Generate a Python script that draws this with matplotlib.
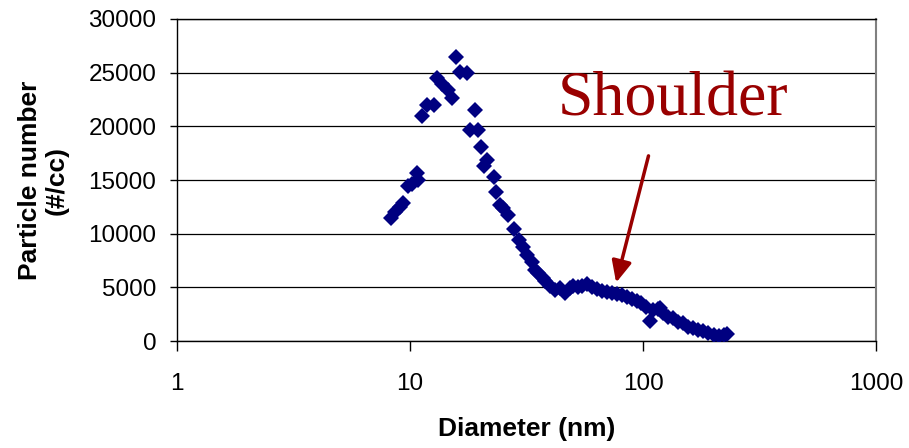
import matplotlib
matplotlib.use("Agg")
import matplotlib.pyplot as plt
from matplotlib.ticker import FixedLocator, FixedFormatter, NullLocator

# Data
diameter_nm = [8.25, 8.6, 9.0, 9.35, 9.8, 10.15, 10.7, 10.85, 11.2, 11.8, 12.6, 13.0,
               13.7, 14.6, 15.1, 15.7, 16.4, 17.5, 18.1, 19.0, 19.6, 20.2, 20.8, 21.3,
               22.8, 23.4, 24.3, 25.1, 26.4, 27.9, 29.2, 30.6, 31.7, 33.3, 34.4, 35.5,
               37.0, 38.1, 39.9, 41.9, 44.0, 46.2, 48.5, 50.1, 52.7, 54.4, 57.2, 60.1,
               63.2, 66.3, 69.7, 73.2, 77.0, 80.8, 84.9, 89.2, 93.7, 98.4, 103.4, 107.0,
               110.8, 116.4, 118.6, 122.3, 128.5, 135.0, 141.9, 149.0, 156.6, 164.6,
               172.9, 181.7, 190.9, 200.6, 210.8, 222.0, 230.0]
particle_number = [11450, 12050, 12500, 12850, 14400, 14650, 15650, 15000, 21000, 22000,
                   22000, 24500, 23900, 23400, 22650, 26500, 25100, 25000, 19700, 21500,
                   19700, 18100, 16300, 16900, 15300, 13850, 12700, 12400, 11750, 10450,
                   9450, 8800, 8050, 7400, 6650, 6300, 5900, 5550, 5100, 4750, 4900, 4500,
                   4900, 5100, 5000, 5150, 5300, 5000, 4850, 4700, 4550, 4500, 4350, 4250,
                   4100, 3900, 3750, 3500, 3200, 1900, 2900, 2950, 3050, 2600, 2250, 2100,
                   1800, 1650, 1350, 1200, 1050, 950, 750, 600, 450, 600, 650]

x_ticks = [1, 10, 100, 1000]
x_tick_labels = ["1", "10", "100", "1000"]
y_ticks = [0, 5000, 10000, 15000, 20000, 25000, 30000]
y_tick_labels = ["0", "5000", "10000", "15000", "20000", "25000", "30000"]

annotation_text = "Shoulder"
arrow_tip = (76.6, 5440)
arrow_tail = (105.5, 17250)
text_pos = (134, 21000)

plt.rcParams['font.family'] = ['Liberation Sans', 'DejaVu Sans']

fig = plt.figure(figsize=(9.09, 4.48), dpi=100)
ax = fig.add_axes([0.195, 0.2388, 0.7687, 0.7188])

ax.set_xscale('log')
ax.set_xlim(1, 1000)
ax.set_ylim(0, 30000)

ax.yaxis.set_major_locator(FixedLocator(y_ticks))
ax.yaxis.set_major_formatter(FixedFormatter(y_tick_labels))
ax.xaxis.set_major_locator(FixedLocator(x_ticks))
ax.xaxis.set_major_formatter(FixedFormatter(x_tick_labels))
ax.xaxis.set_minor_locator(NullLocator())

ax.grid(axis='y', color='black', linewidth=0.9)
ax.set_axisbelow(True)

ax.plot(diameter_nm, particle_number, linestyle='none', marker='D',
        markersize=8.3, color='#000080', markeredgewidth=0, zorder=3)

for s in ['left', 'bottom', 'top']:
    ax.spines[s].set_color('black')
    ax.spines[s].set_linewidth(1.0)
ax.spines['right'].set_color('#808080')
ax.spines['right'].set_linewidth(1.5)

ax.tick_params(axis='y', direction='out', length=5, width=1, labelsize=17.5, pad=10)
ax.tick_params(axis='x', direction='out', length=7, width=1, labelsize=17.5, pad=16)

ax.set_xlabel("Diameter (nm)", fontsize=19, fontweight='bold', labelpad=16)
ax.set_ylabel("Particle number\n(#/cc)", fontsize=19, fontweight='bold', labelpad=14,
              linespacing=1.15)

ax.text(text_pos[0], text_pos[1], annotation_text, color='#990000',
        fontsize=46, family=['Liberation Serif', 'DejaVu Serif'],
        ha='center', va='baseline', zorder=4)

ax.annotate('', xy=arrow_tip, xytext=arrow_tail,
            arrowprops=dict(arrowstyle='-|>,head_length=1.3,head_width=0.6',
                            color='#990000', lw=2.5, shrinkA=0, shrinkB=0),
            zorder=4)

fig.savefig('out.png', dpi=100)
